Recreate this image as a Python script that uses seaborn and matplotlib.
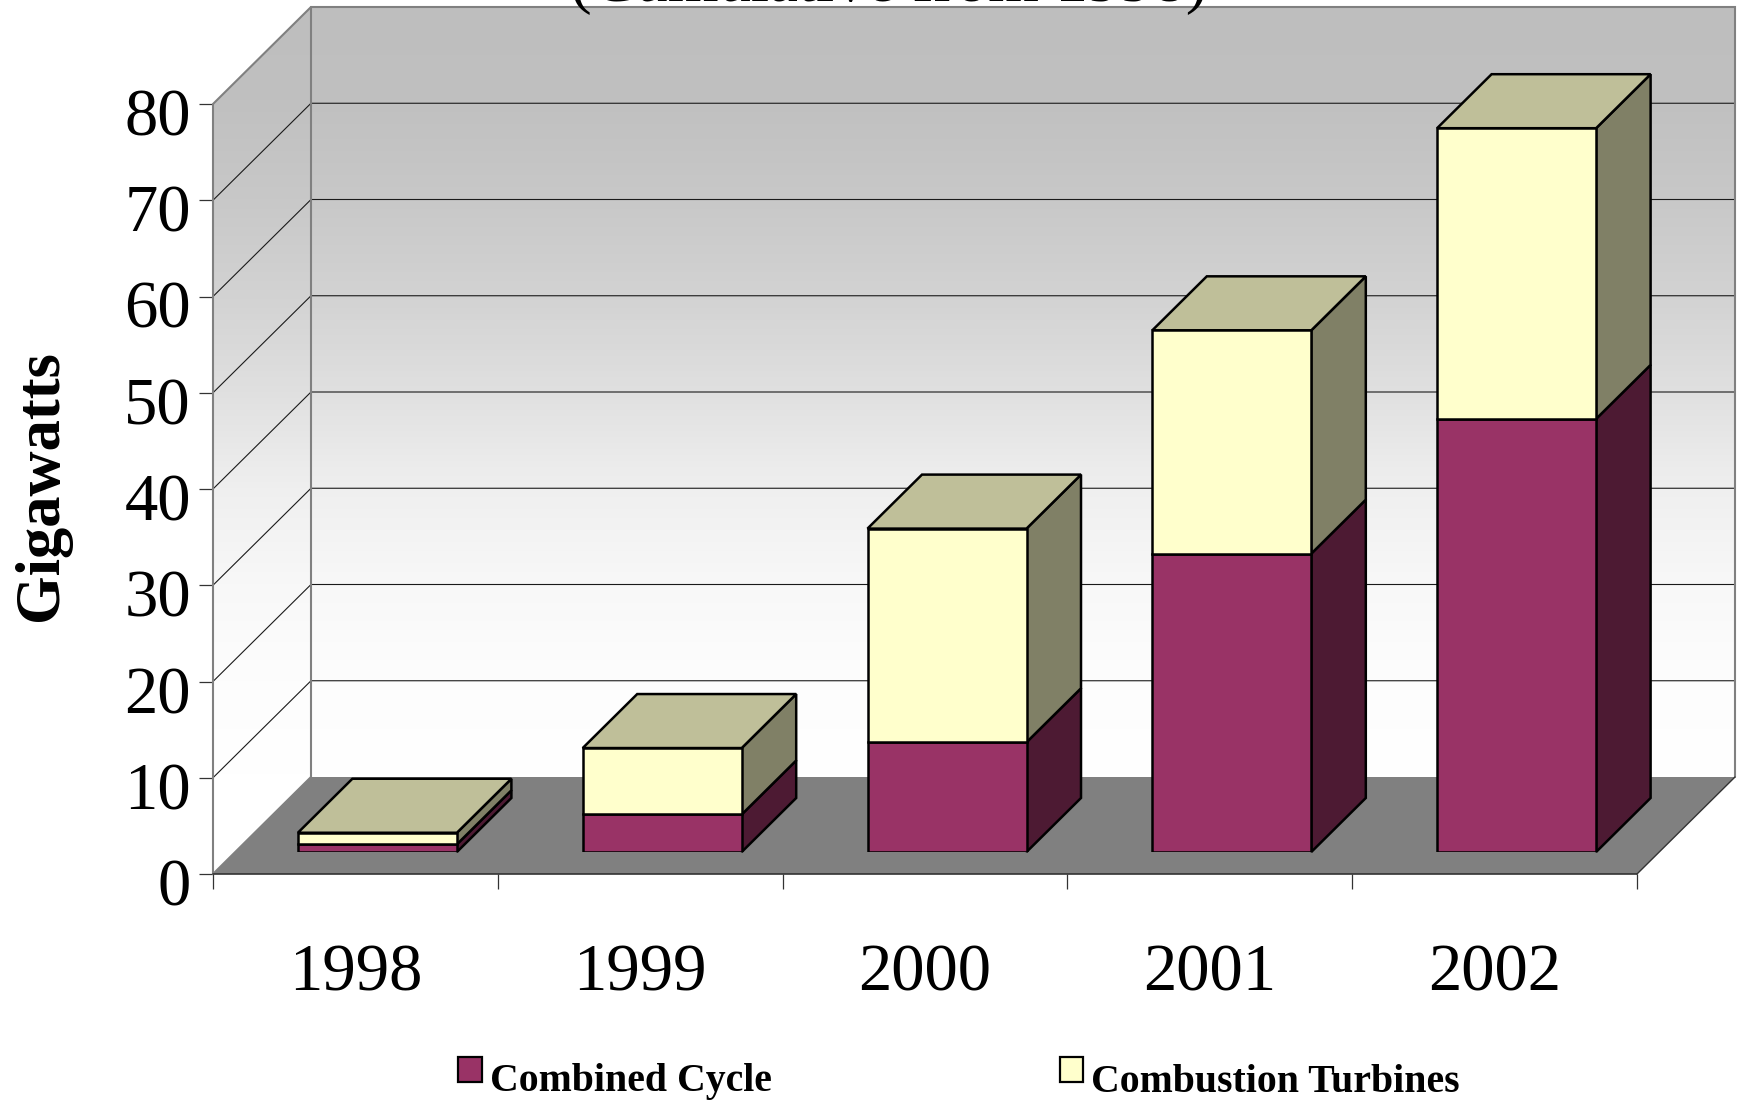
import matplotlib
matplotlib.use("Agg")
import matplotlib.pyplot as plt
from matplotlib.colors import LinearSegmentedColormap
from matplotlib.patches import Patch, Polygon
from matplotlib.transforms import ScaledTranslation
import numpy as np
import pandas as pd
import seaborn as sns

years = ["1998", "1999", "2000", "2001", "2002"]
combined_cycle = [0.8, 3.9, 11.4, 31.0, 45.0]
combustion_turbines = [1.2, 6.9, 22.2, 23.2, 30.2]
y_ticks = [0, 10, 20, 30, 40, 50, 60, 70, 80]

C_CC, C_CC_SIDE = "#993366", "#4D1A33"
C_CT, C_CT_SIDE, C_CT_TOP = "#FFFFCC", "#808066", "#BFBF99"
SERIF = "Liberation Serif"

W, H = 1741, 1101
PX_X = (1637 - 213) / 5      # pixels per category
PX_Y = (874 - 104) / 80      # pixels per gigawatt
BOX_DX, BOX_DY = 98 / PX_X, 97 / PX_Y     # depth of the chart box
BAR_W = 159 / PX_X
BAR_DX, BAR_DY = 54.5 / PX_X, 54 / PX_Y   # depth of a bar

df = pd.DataFrame({"year": years, "cc": combined_cycle, "ct": combustion_turbines})
df["total"] = df["cc"] + df["ct"]

sns.set_theme(style="white")
plt.rcParams["font.family"] = [SERIF, "DejaVu Serif"]

fig = plt.figure(figsize=(W / 100, H / 100), dpi=100, facecolor="white")


def plane_axes(shift):
    """Axes for one depth plane, moved back by `shift` pixels along the diagonal."""
    return fig.add_axes([(213 + shift) / W, (H - 874 + shift) / H, 1424 / W, 770 / H])


# Chart box: gradient walls, floor and gridlines
ax = plane_axes(0)
ax.patch.set_visible(False)
x0, x1 = -0.5, 4.5
top = y_ticks[-1]

wall_cmap = LinearSegmentedColormap.from_list(
    "wall",
    [(0.0, "#BEBEBE"), (0.12, "#C0C0C0"), (0.25, "#C8C8C8"), (0.38, "#D3D3D3"),
     (0.5, "#E0E0E0"), (0.625, "#EFEFEF"), (0.75, "#F8F8F8"), (0.875, "#FDFDFD"),
     (1.0, "#FFFFFF")],
)
gradient = np.linspace(0, 1, 256).reshape(-1, 1)
im = ax.imshow(gradient, cmap=wall_cmap, aspect="auto", zorder=0,
               extent=(x0, x1 + BOX_DX, BOX_DY, top + BOX_DY))
ax.set_xlim(x0, x1)
ax.set_ylim(0, top)
wall_shape = Polygon(
    [(x0, 0), (x0, top), (x0 + BOX_DX, top + BOX_DY), (x1 + BOX_DX, top + BOX_DY),
     (x1 + BOX_DX, BOX_DY), (x0 + BOX_DX, BOX_DY)],
    transform=ax.transData, facecolor="none", edgecolor="none",
)
ax.add_patch(wall_shape)
wall_shape.set_clip_on(False)
im.set_clip_box(fig.bbox)
im.set_clip_path(wall_shape)

ax.add_patch(Polygon(
    [(x0, 0), (x1, 0), (x1 + BOX_DX, BOX_DY), (x0 + BOX_DX, BOX_DY)],
    facecolor="#808080", edgecolor="none", clip_on=False, zorder=1,
))

for v in y_ticks[1:-1]:
    ax.plot([x0, x0 + BOX_DX, x1 + BOX_DX], [v, v + BOX_DY, v + BOX_DY],
            color="#1A1A1A", lw=0.8, clip_on=False, zorder=2)

edge = dict(color="#808080", lw=1.5, clip_on=False, zorder=2, solid_joinstyle="miter")
ax.plot([x0, x0, x0 + BOX_DX, x1 + BOX_DX, x1 + BOX_DX],
        [0, top, top + BOX_DY, top + BOX_DY, BOX_DY], **edge)
ax.plot([x0 + BOX_DX, x0 + BOX_DX], [BOX_DY, top + BOX_DY], **edge)
ax.plot([x0, x0 + BOX_DX], [0, BOX_DY], **edge)
ax.plot([x1, x1 + BOX_DX], [0, BOX_DY], color="#333333", lw=1.0, clip_on=False, zorder=2)
ax.plot([x0, x1], [0, 0], color="#333333", lw=1.2, clip_on=False, zorder=3)

sns.despine(ax=ax, left=True, bottom=True)
ax.set_xticks(np.arange(x0, x1 + 0.5))
ax.set_xticklabels([])
ax.set_xticks(np.arange(len(years)), labels=years, minor=True)
ax.tick_params(axis="x", which="major", length=11, width=0.9, color="#333333", bottom=True)
ax.tick_params(axis="x", which="minor", length=0, pad=50, labelsize=48, labelcolor="black", bottom=False)
ax.set_yticks(y_ticks)
ax.tick_params(axis="y", length=10, width=0.9, color="#333333", left=True,
               pad=6, labelsize=48, labelcolor="black")
ax.grid(False)

# The value labels sit a little below their ticks
nudge = ScaledTranslation(0, -8 / 100, fig.dpi_scale_trans)
for label in ax.get_yticklabels():
    label.set_transform(label.get_transform() + nudge)

# Bars, standing a little behind the front edge of the floor
bar_ax = plane_axes(22)
bar_ax.patch.set_visible(False)
bar_style = dict(width=BAR_W, edgecolor="black", linewidth=1.8, saturation=1, ax=bar_ax, zorder=4)
sns.barplot(data=df, x="year", y="cc", color=C_CC, **bar_style)
sns.barplot(data=df, x="year", y="ct", color=C_CT, bottom=df["cc"], **bar_style)
bar_ax.set_xlim(x0, x1)
bar_ax.set_ylim(0, top)
bar_ax.axis("off")

for i, (cc, total) in enumerate(zip(df["cc"], df["total"])):
    left, right = i - BAR_W / 2, i + BAR_W / 2
    face = dict(edgecolor="black", linewidth=1.8, clip_on=False, zorder=3, joinstyle="miter")
    bar_ax.add_patch(Polygon(
        [(right, 0), (right + BAR_DX, BAR_DY), (right + BAR_DX, cc + BAR_DY), (right, cc)],
        facecolor=C_CC_SIDE, **face))
    bar_ax.add_patch(Polygon(
        [(right, cc), (right + BAR_DX, cc + BAR_DY), (right + BAR_DX, total + BAR_DY), (right, total)],
        facecolor=C_CT_SIDE, **face))
    bar_ax.add_patch(Polygon(
        [(left, total), (right, total), (right + BAR_DX, total + BAR_DY), (left + BAR_DX, total + BAR_DY)],
        facecolor=C_CT_TOP, **face))

# Texts
fig.text(889 / W, 1 - 1 / H, "(Cumulative from 1998)", ha="center", va="baseline",
         fontsize=47, color="black", family=SERIF)
fig.text(42.5 / W, 1 - 486 / H, "Gigawatts", rotation=90, ha="center", va="center",
         fontsize=45, fontweight="bold", color="black", family=SERIF)

handles = [
    Patch(facecolor=C_CC, edgecolor="black", linewidth=1.6, label="Combined Cycle"),
    Patch(facecolor=C_CT, edgecolor="black", linewidth=1.6, label="Combustion Turbines"),
]
legend = fig.legend(handles=handles, loc="center left", bbox_to_anchor=(458 / W, 1 - 1082 / H),
                    ncols=2, frameon=False, handlelength=0.6, handleheight=0.6, handletextpad=0.2,
                    columnspacing=7.25, borderpad=0, borderaxespad=0, labelcolor="black",
                    prop={"family": SERIF, "weight": "bold", "size": 28.6})
# Swatches stand slightly higher than their labels
for swatch in legend.get_patches():
    swatch.set_y(swatch.get_y() + 6)

fig.savefig("out.png", dpi=100)
